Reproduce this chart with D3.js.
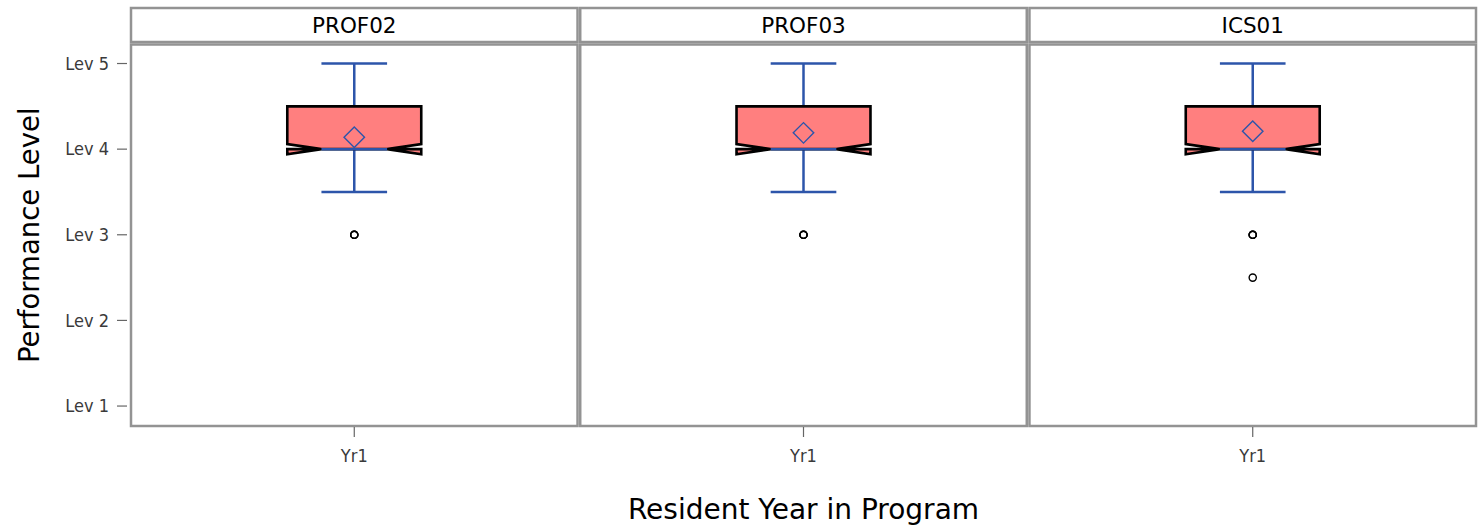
<!DOCTYPE html>
<html>
<head>
<meta charset="utf-8">
<script src="https://cdn.jsdelivr.net/npm/d3@7"></script>
<style>
  body { margin: 0; background: #fff; }
  text { font-family: "DejaVu Sans", sans-serif; }
  .tick_label { font-family: "DejaVu Sans Condensed", "DejaVu Sans", sans-serif; font-size: 18px; fill: #3a3a3a; }
</style>
</head>
<body>
<div id="chart"></div>
<script>
// panel data, one entry per competency
var panels = ["PROF02", "PROF03", "ICS01"]
var category = "Yr1"
var q1 = [4, 4, 4]
var median = [4, 4, 4]
var q3 = [4.5, 4.5, 4.5]
var notch_low = [3.94, 3.94, 3.94]
var notch_high = [4.06, 4.06, 4.06]
var whisker_low = [3.5, 3.5, 3.5]
var whisker_high = [5, 5, 5]
var means = [4.14, 4.19, 4.21]
var outliers = [[3, 3, 3], [3, 3, 3], [3, 3, 3, 2.5]]

var y_ticks = [1, 2, 3, 4, 5]
var y_tick_labels = ["Lev 1", "Lev 2", "Lev 3", "Lev 4", "Lev 5"]

var width = 1483, height = 531
var frame_color = "#939393"
var box_fill = "#FF7F7F"
var blue = "#2D55AA"

var svg = d3.select("#chart").append("svg")
  .attr("width", width)
  .attr("height", height)

var dims = {
  left: 131,
  right: 1476,
  header_top: 8,
  header_bottom: 42,
  plot_top: 44.5,
  plot_bottom: 426
}

var x_panel = d3.scaleBand()
  .domain(panels)
  .range([dims.left, dims.right])
  .paddingInner(0.006)

var y = d3.scaleLinear()
  .domain([0.767, 5.222])
  .range([dims.plot_bottom, dims.plot_top])

// y axis (only on the first panel)
var y_axis = svg.append("g").attr("class", "y_axis")
y_axis.selectAll("line")
  .data(y_ticks)
  .enter().append("line")
    .attr("x1", dims.left - 14)
    .attr("x2", dims.left - 4)
    .attr("y1", function(d) { return y(d) })
    .attr("y2", function(d) { return y(d) })
    .attr("stroke", "#666")
    .attr("stroke-width", 1.2)
y_axis.selectAll("text")
  .data(y_ticks)
  .enter().append("text")
    .attr("class", "tick_label")
    .attr("x", dims.left - 22)
    .attr("y", function(d) { return y(d) })
    .attr("dy", "0.35em")
    .attr("text-anchor", "end")
    .text(function(d, i) { return y_tick_labels[i] })

svg.append("text")
  .attr("transform", "translate(39," + ((dims.plot_top + dims.plot_bottom) / 2) + ") rotate(-90)")
  .attr("text-anchor", "middle")
  .style("font-size", "27.5px")
  .attr("fill", "#000")
  .text("Performance Level")

svg.append("text")
  .attr("x", (dims.left + dims.right) / 2)
  .attr("y", 519)
  .attr("text-anchor", "middle")
  .style("font-size", "28px")
  .attr("fill", "#000")
  .text("Resident Year in Program")

panels.forEach(function(name, i) {
  var px = x_panel(name)
  var pw = x_panel.bandwidth()
  var cx = px + pw / 2
  var g = svg.append("g").attr("class", "panel")

  // header strip
  g.append("rect")
    .attr("x", px)
    .attr("y", dims.header_top)
    .attr("width", pw)
    .attr("height", dims.header_bottom - dims.header_top)
    .attr("fill", "#fff")
    .attr("stroke", frame_color)
    .attr("stroke-width", 2.5)
  g.append("text")
    .attr("x", cx)
    .attr("y", (dims.header_top + dims.header_bottom) / 2)
    .attr("dy", "0.36em")
    .attr("text-anchor", "middle")
    .style("font-size", "21.5px")
    .attr("fill", "#000")
    .text(name)

  // plot frame
  g.append("rect")
    .attr("x", px)
    .attr("y", dims.plot_top)
    .attr("width", pw)
    .attr("height", dims.plot_bottom - dims.plot_top)
    .attr("fill", "#fff")
    .attr("stroke", frame_color)
    .attr("stroke-width", 2.5)

  // x tick + label
  g.append("line")
    .attr("x1", cx).attr("x2", cx)
    .attr("y1", dims.plot_bottom + 1).attr("y2", dims.plot_bottom + 11)
    .attr("stroke", "#666")
    .attr("stroke-width", 1.2)
  g.append("text")
    .attr("class", "tick_label")
    .attr("x", cx)
    .attr("y", 462)
    .attr("text-anchor", "middle")
    .text(category)

  var box_w = pw * 0.3
  var cap_w = box_w * 0.49
  var lx = cx - box_w / 2, rx = cx + box_w / 2
  var nlx = cx - cap_w / 2, nrx = cx + cap_w / 2

  // whiskers
  g.append("line")
    .attr("x1", cx).attr("x2", cx)
    .attr("y1", y(whisker_low[i])).attr("y2", y(whisker_high[i]))
    .attr("stroke", blue).attr("stroke-width", 2.5)
  ;[whisker_low[i], whisker_high[i]].forEach(function(v) {
    g.append("line")
      .attr("x1", nlx).attr("x2", nrx)
      .attr("y1", y(v)).attr("y2", y(v))
      .attr("stroke", blue).attr("stroke-width", 2.5)
  })

  // notched box: Q3 top, notch in to median, out to notch low, back up to Q1
  var path = d3.path()
  path.moveTo(lx, y(q3[i]))
  path.lineTo(rx, y(q3[i]))
  path.lineTo(rx, y(notch_high[i]))
  path.lineTo(nrx, y(median[i]))
  path.lineTo(rx, y(notch_low[i]))
  path.lineTo(rx, y(q1[i]))
  path.lineTo(lx, y(q1[i]))
  path.lineTo(lx, y(notch_low[i]))
  path.lineTo(nlx, y(median[i]))
  path.lineTo(lx, y(notch_high[i]))
  path.closePath()
  g.append("path")
    .attr("d", path.toString())
    .attr("fill", box_fill)
    .attr("stroke", "#000")
    .attr("stroke-width", 2.6)
    .attr("stroke-linejoin", "miter")

  // median
  g.append("line")
    .attr("x1", nlx).attr("x2", nrx)
    .attr("y1", y(median[i])).attr("y2", y(median[i]))
    .attr("stroke", blue).attr("stroke-width", 2.5)

  // mean diamond
  g.append("path")
    .attr("d", d3.symbol().type(d3.symbolSquare).size(210)())
    .attr("transform", "translate(" + cx + "," + y(means[i]) + ") rotate(45)")
    .attr("fill", "none")
    .attr("stroke", blue)
    .attr("stroke-width", 1.4)

  // outliers
  g.selectAll("circle.outlier")
    .data(outliers[i])
    .enter().append("circle")
      .attr("class", "outlier")
      .attr("cx", cx)
      .attr("cy", function(d) { return y(d) })
      .attr("r", 3.6)
      .attr("fill", "none")
      .attr("stroke", "#000")
      .attr("stroke-width", 1.4)
})
</script>
</body>
</html>
